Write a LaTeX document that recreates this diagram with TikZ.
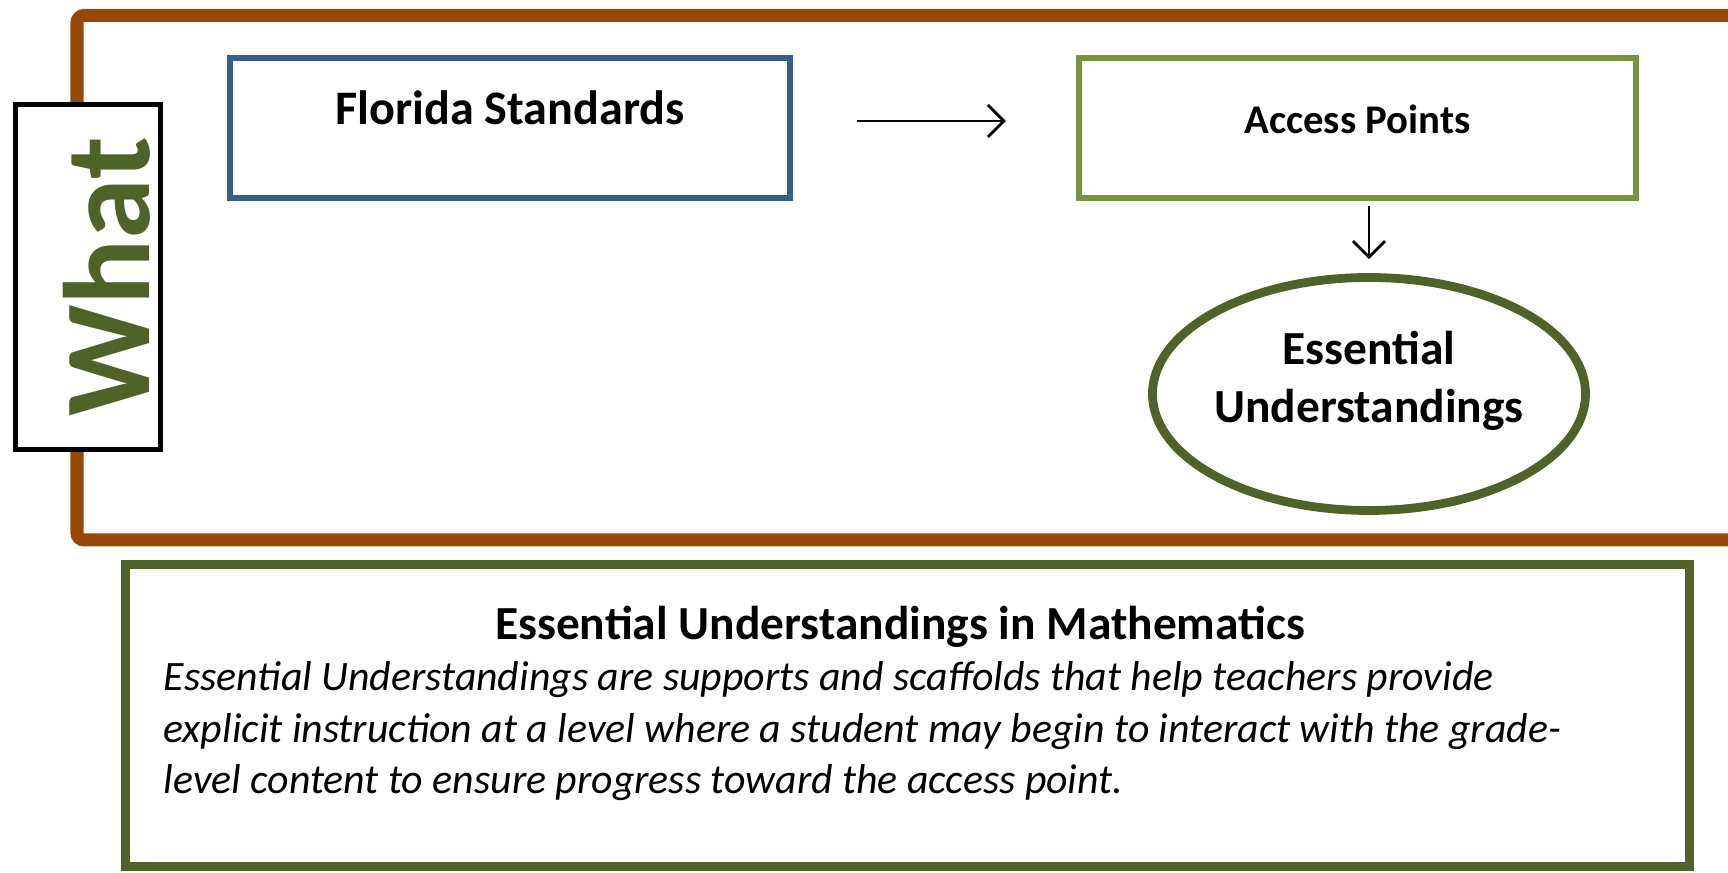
\documentclass[tikz,border=0pt]{standalone}
\usepackage{fontspec}
\setmainfont{Carlito}
\usetikzlibrary{shapes.geometric, arrows.meta, positioning, calc}
\definecolor{framebrown}{HTML}{974806}
\definecolor{darkolive}{HTML}{4F6228}
\definecolor{leafgreen}{HTML}{77933C}
\definecolor{stdblue}{HTML}{385D8A}

\begin{document}
\begin{tikzpicture}
    \tikzstyle{whatbox} = [rectangle, rotate=90, draw=black, line width=1.3pt, fill=white, inner sep=0pt, minimum width=3.45cm, minimum height=1.45cm, text height=1.34cm, text depth=0.11cm, text=darkolive, font=\bfseries\fontsize{35}{40}\selectfont]
    \tikzstyle{standard} = [rectangle, draw=stdblue, line width=1.6pt, fill=white, inner sep=0pt, minimum width=5.60cm, minimum height=1.40cm, text height=0.67cm, text depth=0.73cm, font=\bfseries\fontsize{13.7}{16}\selectfont]
    \tikzstyle{access} = [rectangle, draw=leafgreen, line width=1.8pt, fill=white, inner sep=0pt, minimum width=5.57cm, minimum height=1.40cm, text height=0.76cm, text depth=0.64cm, font=\bfseries\fontsize{11.6}{14}\selectfont]
    \tikzstyle{essential} = [ellipse, draw=darkolive, line width=2.5pt, fill=white, inner sep=0pt, minimum width=4.33cm, minimum height=2.33cm]
    \tikzstyle{infobox} = [rectangle, draw=darkolive, line width=2.5pt, inner sep=0pt, minimum width=15.64cm, minimum height=3.02cm]
    \tikzstyle{boldtext} = [align=center, inner sep=0pt, font=\bfseries\fontsize{13.5}{16.5}\selectfont]
    \tikzstyle{bodytext} = [align=left, inner sep=0pt, font=\itshape\fontsize{11.9}{14.7}\selectfont]
    \tikzstyle{arrow} = [line width=0.8pt, -{Straight Barb[length=1.6mm, width=3.2mm]}]

    \clip (0,0) rectangle (17.28,-8.73);
    \draw[framebrown, line width=3.7pt, rounded corners=2pt] (0.77,-0.155) rectangle (17.6,-5.40);

    \node[whatbox] (what) at (0.88,-2.77) {What};
    \node[standard] (florida) at (5.10,-1.28) {Florida Standards};
    \node[access] (points) at (13.575,-1.28) {Access Points};
    \node[essential] (eu) at (13.69,-3.94) {};
    \node[boldtext] (eulabel) at (13.69,-3.81) {Essential\\Understandings};

    \draw[arrow, shorten <=0.64cm, shorten >=0.70cm] ([yshift=0.07cm]florida.east) -- ([yshift=0.07cm]points.west);
    \draw[arrow, shorten <=0.05cm, shorten >=0.14cm] (points.south -| eu.north) -- (eu.north);

    \node[infobox] (eumath) at (9.075,-7.155) {};
    \node[boldtext, anchor=base] (eutitle) at (9.00,-6.40) {Essential Understandings in Mathematics};
    \node[bodytext, anchor=base west] (eubody) at (1.63,-7.94) {Essential Understandings are supports and scaffolds that help teachers provide\\explicit instruction at a level where a student may begin to interact with the grade-\\level content to ensure progress toward the access point.};
\end{tikzpicture}
\end{document}
